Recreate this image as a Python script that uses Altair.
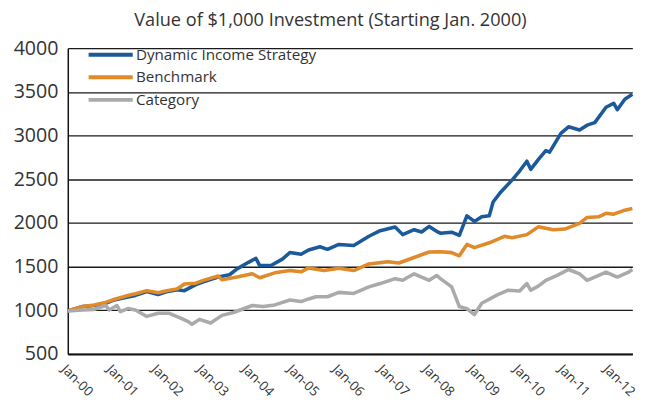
import altair as alt
import pandas as pd

title_text = "Value of $1,000 Investment (Starting Jan. 2000)"
series_names = ["Dynamic Income Strategy", "Benchmark", "Category"]
series_colors = ["#1a5a9a", "#e08a2a", "#aaaaac"]
y_ticks = [500, 1000, 1500, 2000, 2500, 3000, 3500, 4000]

dyn_dates = ["2000-01", "2000-05", "2000-08", "2000-11", "2001-01", "2001-05", "2001-07", "2001-10",
             "2002-01", "2002-03", "2002-06", "2002-08", "2002-11", "2003-01", "2003-05", "2003-08",
             "2003-10", "2004-01", "2004-03", "2004-04", "2004-07", "2004-10", "2004-12", "2005-03",
             "2005-05", "2005-08", "2005-10", "2006-01", "2006-05", "2006-09", "2006-12", "2007-04",
             "2007-06", "2007-09", "2007-11", "2008-01", "2008-03", "2008-04", "2008-07", "2008-09",
             "2008-11", "2009-01", "2009-03", "2009-05", "2009-06", "2009-08", "2009-11", "2010-01",
             "2010-03", "2010-04", "2010-06", "2010-08", "2010-09", "2010-12", "2011-02", "2011-05",
             "2011-07", "2011-09", "2011-12", "2012-02", "2012-03", "2012-05", "2012-07"]
dyn_values = [993, 1043, 1055, 1080, 1115, 1152, 1170, 1215,
              1181, 1208, 1234, 1225, 1294, 1325, 1380, 1407,
              1474, 1549, 1594, 1512, 1512, 1586, 1661, 1642,
              1690, 1727, 1698, 1754, 1742, 1847, 1911, 1953,
              1866, 1922, 1896, 1960, 1904, 1883, 1894, 1857,
              2081, 2017, 2070, 2081, 2240, 2352, 2490, 2594,
              2706, 2613, 2725, 2828, 2810, 3025, 3100, 3063,
              3119, 3148, 3324, 3370, 3296, 3415, 3472]

bench_dates = ["2000-01", "2000-05", "2000-08", "2000-11", "2001-01", "2001-05", "2001-07", "2001-10",
               "2002-01", "2002-03", "2002-06", "2002-08", "2002-11", "2003-01", "2003-05", "2003-06",
               "2003-10", "2004-02", "2004-04", "2004-08", "2004-12", "2005-03", "2005-05", "2005-09",
               "2006-01", "2006-05", "2006-09", "2007-02", "2007-05", "2007-09", "2008-01", "2008-04",
               "2008-07", "2008-09", "2008-11", "2009-01", "2009-05", "2009-09", "2009-11", "2010-03",
               "2010-06", "2010-10", "2011-01", "2011-05", "2011-07", "2011-10", "2011-12", "2012-02",
               "2012-05", "2012-07"]
bench_values = [993, 1043, 1060, 1090, 1120, 1170, 1190, 1225,
                1200, 1220, 1245, 1300, 1310, 1343, 1392, 1350,
                1380, 1418, 1373, 1429, 1455, 1440, 1485, 1455,
                1481, 1455, 1530, 1556, 1541, 1604, 1667, 1669,
                1660, 1624, 1754, 1717, 1773, 1847, 1830, 1866,
                1955, 1922, 1930, 1996, 2063, 2070, 2110, 2100,
                2146, 2165]

cat_dates = ["2000-01", "2000-05", "2000-08", "2000-11", "2000-12", "2001-02", "2001-03", "2001-05",
             "2001-07", "2001-10", "2002-01", "2002-04", "2002-07", "2002-09", "2002-10", "2002-12",
             "2003-03", "2003-06", "2003-09", "2004-02", "2004-05", "2004-08", "2004-12", "2005-03",
             "2005-05", "2005-07", "2005-10", "2006-01", "2006-05", "2006-09", "2006-12", "2007-04",
             "2007-06", "2007-09", "2008-01", "2008-03", "2008-04", "2008-07", "2008-09", "2008-11",
             "2009-01", "2009-03", "2009-07", "2009-10", "2010-01", "2010-03", "2010-04", "2010-06",
             "2010-08", "2010-11", "2011-02", "2011-05", "2011-07", "2011-09", "2011-12", "2012-03",
             "2012-06", "2012-07"]
cat_values = [993, 1004, 1010, 1055, 1004, 1055, 985, 1020,
              1004, 930, 966, 966, 910, 870, 840, 896,
              855, 942, 975, 1055, 1043, 1062, 1118, 1100,
              1130, 1155, 1155, 1205, 1193, 1268, 1306, 1362,
              1343, 1418, 1343, 1399, 1362, 1268, 1043, 1018,
              950, 1081, 1174, 1230, 1220, 1306, 1230, 1277,
              1343, 1399, 1467, 1418, 1343, 1380, 1437, 1380,
              1437, 1467]

rows = []
for name, dates, values in [(series_names[0], dyn_dates, dyn_values),
                            (series_names[1], bench_dates, bench_values),
                            (series_names[2], cat_dates, cat_values)]:
    for d, v in zip(dates, values):
        rows.append({"date": d + "-01T00:00:00", "value": v, "series": name})
df = pd.DataFrame(rows)

FONT = "Open Sans"

chart = alt.Chart(df).mark_line(strokeWidth=3.6, strokeJoin="round").encode(
    x=alt.X("date:T",
            scale=alt.Scale(domain=["2000-01-01T00:00:00", "2012-07-01T00:00:00"]),
            axis=alt.Axis(title=None, format="%b-%y", tickCount={"interval": "year", "step": 1},
                          labelAngle=45, labelAlign="left", labelBaseline="top",
                          grid=False, ticks=False, domain=True, domainColor="#111",
                          domainWidth=2, labelFontSize=13.5, labelPadding=8,
                          labelColor="#333", labelFont=FONT)),
    y=alt.Y("value:Q",
            scale=alt.Scale(domain=[500, 4000], nice=False, zero=False),
            axis=alt.Axis(title=None, values=y_ticks, format="d", grid=True, gridColor="#1a1a1a",
                          gridWidth=1.3, ticks=False, domain=True, domainColor="#111",
                          domainWidth=1.5, labelFontSize=20, labelPadding=10,
                          labelColor="#333", labelFont=FONT)),
    color=alt.Color("series:N",
                    scale=alt.Scale(domain=series_names, range=series_colors),
                    legend=alt.Legend(title=None, orient="none", legendX=36, legendY=-1,
                                      symbolType="M-4.5,0H4.5", symbolSize=100,
                                      symbolStrokeWidth=4, labelFontSize=15.5,
                                      labelFont=FONT, labelColor="#333", labelLimit=400,
                                      labelOffset=18, rowPadding=5)),
).properties(
    width=576,
    height=312,
    title=alt.TitleParams(title_text, fontSize=18.5, font=FONT, color="#333",
                          fontWeight="normal", anchor="middle", dx=-20,
                          baseline="alphabetic", offset=-6),
    autosize=alt.AutoSizeParams(type="none"),
    padding={"left": 61, "top": 37, "right": 18, "bottom": 45},
).configure_view(strokeWidth=0)

chart.save("out.html", embed_options={"renderer": "svg", "actions": False})
